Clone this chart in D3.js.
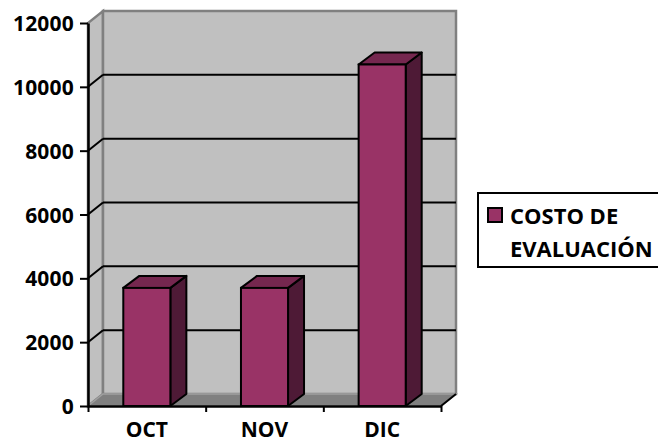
<!DOCTYPE html>
<html>
<head>
<meta charset="utf-8">
<script src="https://cdn.jsdelivr.net/npm/d3@7"></script>
<style>
  body { margin: 0; background: #fff; }
  text { font-family: "Open Sans", sans-serif; font-weight: 700; fill: #000; }
</style>
</head>
<body>
<div id="chart"></div>
<script>
// data
const months = ["OCT", "NOV", "DIC"];
const costs = [3700, 3700, 10700];
const yTicks = [0, 2000, 4000, 6000, 8000, 10000, 12000];
const seriesName = ["COSTO DE", "EVALUACIÓN"];

const W = 658, H = 444;
const svg = d3.select("#chart").append("svg")
    .attr("width", W)
    .attr("height", H);

// scales (front plane)
const x = d3.scaleBand().domain(months).range([88, 441]).paddingInner(0).paddingOuter(0);
const y = d3.scaleLinear().domain([0, 12000]).range([406, 23]);

// depth of the wall / bars
const dx = 15, dy = -12;
const bdx = 16, bdy = -12;

const x0 = x.range()[0], x1 = x.range()[1];
const yTop = y(12000), yBot = y(0);

// side wall (left)
svg.append("polygon")
    .attr("points", [[x0, yBot], [x0, yTop], [x0 + dx, yTop + dy], [x0 + dx, yBot + dy]].join(" "))
    .attr("fill", "#c0c0c0")
    .attr("stroke", "#808080")
    .attr("stroke-width", 2.5);

// back wall
svg.append("rect")
    .attr("x", x0 + dx)
    .attr("y", yTop + dy)
    .attr("width", x1 - x0)
    .attr("height", yBot - yTop)
    .attr("fill", "#c0c0c0")
    .attr("stroke", "#808080")
    .attr("stroke-width", 2.5);

// floor
svg.append("polygon")
    .attr("points", [[x0, yBot], [x1, yBot], [x1 + dx, yBot + dy], [x0 + dx, yBot + dy]].join(" "))
    .attr("fill", "#808080")
    .attr("stroke", "#a0a0a0")
    .attr("stroke-width", 1.5);

// gridlines on back wall + side wall
const grid = yTicks.filter(d => d > 0 && d < 12000);
svg.selectAll(".grid")
    .data(grid)
    .enter().append("line")
    .attr("class", "grid")
    .attr("x1", x0 + dx)
    .attr("x2", x1 + dx)
    .attr("y1", d => y(d) + dy)
    .attr("y2", d => y(d) + dy)
    .attr("stroke", "#000")
    .attr("stroke-width", 2);

svg.selectAll(".gridSide")
    .data(grid)
    .enter().append("line")
    .attr("class", "gridSide")
    .attr("x1", x0)
    .attr("x2", x0 + dx)
    .attr("y1", d => y(d))
    .attr("y2", d => y(d) + dy)
    .attr("stroke", "#000")
    .attr("stroke-width", 2);

// bars
const bw = x.bandwidth() * 0.4;
const bars = svg.selectAll(".bar")
    .data(months.map((m, i) => ({m: m, v: costs[i]})))
    .enter().append("g")
    .attr("class", "bar");

bars.append("polygon") // side
    .attr("points", d => {
        let bx = x(d.m) + (x.bandwidth() - bw) / 2 + bw;
        return [[bx, yBot], [bx, y(d.v)], [bx + bdx, y(d.v) + bdy], [bx + bdx, yBot + bdy]].join(" ");
    })
    .attr("fill", "#4e1a36")
    .attr("stroke", "#000")
    .attr("stroke-width", 2)
    .attr("stroke-linejoin", "round");

bars.append("polygon") // top
    .attr("points", d => {
        let bx = x(d.m) + (x.bandwidth() - bw) / 2;
        let ty = y(d.v);
        return [[bx, ty], [bx + bdx, ty + bdy], [bx + bw + bdx, ty + bdy], [bx + bw, ty]].join(" ");
    })
    .attr("fill", "#75274f")
    .attr("stroke", "#000")
    .attr("stroke-width", 2)
    .attr("stroke-linejoin", "round");

bars.append("rect") // front
    .attr("x", d => x(d.m) + (x.bandwidth() - bw) / 2)
    .attr("y", d => y(d.v))
    .attr("width", bw)
    .attr("height", d => yBot - y(d.v))
    .attr("fill", "#993366")
    .attr("stroke", "#000")
    .attr("stroke-width", 2);

// floor right edge
svg.append("line")
    .attr("x1", x1).attr("y1", yBot)
    .attr("x2", x1 + dx).attr("y2", yBot + dy)
    .attr("stroke", "#000")
    .attr("stroke-width", 2);

// y axis
const yAxis = d3.axisLeft(y).tickValues(yTicks).tickFormat(d3.format("d"))
    .tickSize(8).tickSizeOuter(0).tickPadding(6);
const yg = svg.append("g")
    .attr("transform", "translate(" + x0 + ",0)")
    .call(yAxis);
yg.select(".domain").attr("stroke", "#000").attr("stroke-width", 2.5);
yg.selectAll(".tick line").attr("stroke", "#000").attr("stroke-width", 2);
yg.selectAll(".tick text")
    .style("font-size", "21px")
    .style("letter-spacing", "0.2px")
    .attr("dy", "0.36em");

// x axis
const xAxisScale = d3.scaleLinear().domain([0, months.length]).range([x0, x1]);
const xg = svg.append("g")
    .attr("transform", "translate(0," + yBot + ")")
    .call(d3.axisBottom(xAxisScale).ticks(months.length).tickSize(6).tickSizeOuter(0).tickFormat(""));
xg.select(".domain").attr("stroke", "#000").attr("stroke-width", 2.5);
xg.selectAll(".tick line").attr("stroke", "#000").attr("stroke-width", 2);

svg.selectAll(".xlab")
    .data(months)
    .enter().append("text")
    .attr("class", "xlab")
    .attr("x", d => x(d) + x.bandwidth() / 2)
    .attr("y", 437)
    .attr("text-anchor", "middle")
    .style("font-size", "21px")
    .text(d => d);

// legend
const lg = svg.append("g");
lg.append("rect")
    .attr("x", 478).attr("y", 193)
    .attr("width", 190).attr("height", 74)
    .attr("fill", "#fff")
    .attr("stroke", "#000")
    .attr("stroke-width", 2);
lg.append("rect")
    .attr("x", 488).attr("y", 208)
    .attr("width", 14).attr("height", 14)
    .attr("fill", "#993366")
    .attr("stroke", "#000")
    .attr("stroke-width", 2);
lg.selectAll(".leg")
    .data(seriesName)
    .enter().append("text")
    .attr("class", "leg")
    .attr("x", 510)
    .attr("y", (d, i) => 224 + i * 33)
    .style("font-size", "22px")
    .text(d => d);
</script>
</body>
</html>
